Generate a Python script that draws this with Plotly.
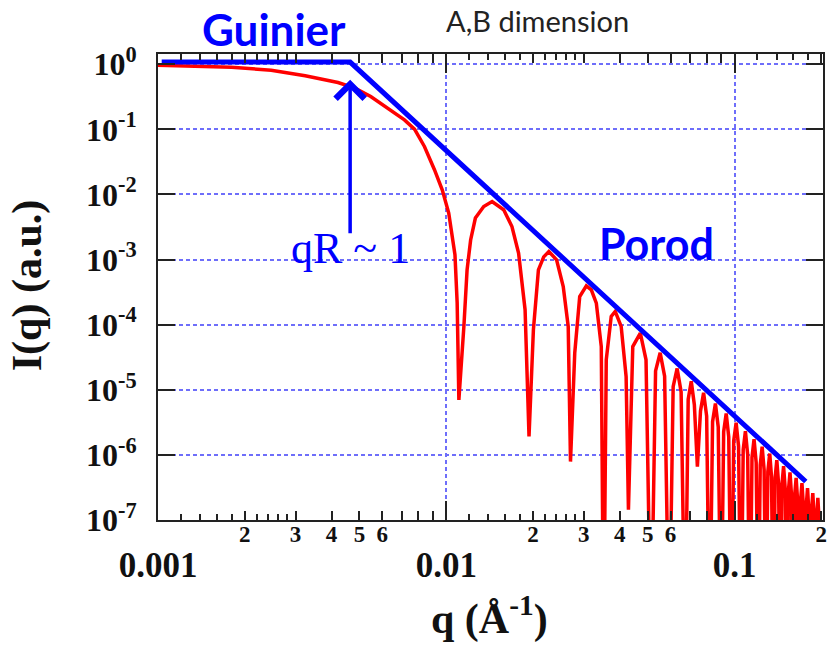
import math
import plotly.graph_objects as go

# Scattering curve of a uniform sphere (red), sampled along q
q_red = [
    # Guinier plateau and first fall-off
    0.00100, 0.00180, 0.00247, 0.00324, 0.00421, 0.00482, 0.00547, 0.00626,
    0.00716, 0.00776, 0.00840, 0.00910, 0.00969, 0.01020, 0.01072, 0.01091, 0.01106,
    # lobe 2
    0.01151, 0.01181, 0.01215, 0.01262, 0.01349, 0.01442, 0.01582, 0.01690, 0.01782, 0.01877, 0.01937,
    # lobe 3
    0.02006, 0.02088, 0.02178, 0.02270, 0.02414, 0.02546, 0.02649, 0.02698,
    # lobe 4
    0.02791, 0.02904, 0.03062, 0.03186, 0.03316, 0.03450, 0.03515,
    # lobe 5
    0.03590, 0.03735, 0.03856, 0.04044, 0.04207, 0.04286,
    # lobe 6
    0.04437, 0.04713, 0.04932, 0.05132,
    # lobes 7 - 25
    0.05323, 0.05522, 0.05722, 0.05934,
    0.06126, 0.06324, 0.06528, 0.06739,
    0.06907, 0.07079, 0.07256, 0.07434,
    0.07622, 0.07812, 0.08005, 0.08198,
    0.08393, 0.08585, 0.08781, 0.08980,
    0.09171, 0.09358, 0.09550, 0.09750,
    0.09936, 0.1013, 0.1033, 0.1053,
    0.1072, 0.1091, 0.1111, 0.1131,
    0.1150, 0.1169, 0.1189, 0.1209,
    0.1228, 0.1247, 0.1267, 0.1286,
    0.1305, 0.1325, 0.1344, 0.1364,
    0.1383, 0.1402, 0.1422, 0.1442,
    0.1461, 0.1480, 0.1500, 0.1520,
    0.1539, 0.1558, 0.1577, 0.1597,
    0.1616, 0.1636, 0.1656, 0.1675,
    0.1694, 0.1714, 0.1734, 0.1753,
    0.1773, 0.1792, 0.1811, 0.1831,
    0.1849, 0.1869, 0.1888, 0.1908,
    0.1928, 0.1946, 0.1966, 0.1986,
    0.2000,
]
i_red = [
    0.966, 0.90, 0.81, 0.665, 0.525, 0.43, 0.32, 0.212,
    0.140, 0.101, 0.0546, 0.024, 0.0117, 0.00518, 0.00119, 2.17e-4, 7.0e-6,
    9.3e-5, 6.97e-4, 2.0e-3, 4.34e-3, 6.55e-3, 7.8e-3, 5.82e-3, 3.22e-3, 1.26e-3, 1.70e-4, 1.92e-6,
    8.35e-5, 6.97e-4, 1.10e-3, 1.33e-3, 9.93e-4, 3.86e-4, 9.4e-5, 7.9e-7,
    3.66e-5, 2.71e-4, 3.96e-4, 3.44e-4, 2.15e-4, 4.62e-5, 1e-9,
    2.89e-5, 1.34e-4, 1.60e-4, 9.4e-5, 1.60e-5, 1.44e-7,
    4.62e-5, 7.43e-5, 2.89e-5, 1e-9,
    1.95e-5, 3.70e-5, 1.62e-5, 1e-9,
    1.12e-5, 2.13e-5, 9.3e-6, 1e-9,
    7.1e-6, 1.35e-5, 5.9e-6, 6.6e-7,
    4.73e-6, 9.0e-6, 3.94e-6, 1e-9,
    3.24e-6, 6.15e-6, 2.69e-6, 1e-9,
    2.27e-6, 4.33e-6, 1.89e-6, 1e-9,
    1.64e-6, 3.13e-6, 1.36e-6, 1e-9,
    1.21e-6, 2.31e-6, 1.01e-6, 1e-9,
    9.2e-7, 1.75e-6, 7.6e-7, 1e-9,
    7.0e-7, 1.34e-6, 5.9e-7, 1e-9,
    5.5e-7, 1.05e-6, 4.6e-7, 1e-9,
    4.4e-7, 8.3e-7, 3.6e-7, 1e-9,
    3.5e-7, 6.7e-7, 2.9e-7, 1e-9,
    2.85e-7, 5.4e-7, 2.37e-7, 1e-9,
    2.33e-7, 4.45e-7, 1.94e-7, 1e-9,
    1.93e-7, 3.68e-7, 1.61e-7, 1e-9,
    1.61e-7, 3.08e-7, 1.34e-7, 1e-9,
    1.36e-7, 2.59e-7, 1.13e-7, 1e-9,
    1.15e-7, 2.19e-7, 9.6e-8, 1e-9,
    8e-8,
]

# Guinier plateau + Porod q^-4 asymptote (blue)
q_fit = [0.00103, 0.00464, 0.1767]
i_fit = [1.08, 1.08, 3.9e-7]

# qR ~ 1 marker: arrow from label up to the curve
q_knee = 0.00464
i_arrow_tip = 0.578
i_arrow_tail = 2.4e-3

# axis ticks
decades = [0.001, 0.01, 0.1]
decade_labels = ["0.001", "0.01", "0.1"]
mult_ticks = [0.002, 0.003, 0.004, 0.005, 0.006, 0.007, 0.008, 0.009,
              0.02, 0.03, 0.04, 0.05, 0.06, 0.07, 0.08, 0.09, 0.2]
mult_labels = ["2", "3", "4", "5", "6", "", "", "",
               "2", "3", "4", "5", "6", "", "", "", "2"]
fine_ticks = [0.0012, 0.0014, 0.0016, 0.0018, 0.0022, 0.0024, 0.0026, 0.0028,
              0.012, 0.014, 0.016, 0.018, 0.022, 0.024, 0.026, 0.028,
              0.12, 0.14, 0.16, 0.18]
y_ticks = [1e-7, 1e-6, 1e-5, 1e-4, 1e-3, 1e-2, 1e-1, 1e0]
y_labels = ["10<sup>-7</sup>", "10<sup>-6</sup>", "10<sup>-5</sup>", "10<sup>-4</sup>",
            "10<sup>-3</sup>", "10<sup>-2</sup>", "10<sup>-1</sup>", "10<sup>0</sup>"]

X_RANGE = [-3.0, -0.693]
Y_RANGE = [-7.0, 0.158]

SERIF = "Liberation Serif"
SANS = "Lato"
BLUE = "#0000ff"
RED = "#ff0000"
GRID = "rgb(110,110,250)"
FRAME = "#222222"

fig = go.Figure()
fig.add_trace(go.Scatter(x=q_red, y=i_red, mode="lines",
                         line=dict(color=RED, width=3.5), xaxis="x", yaxis="y",
                         hoverinfo="skip"))
fig.add_trace(go.Scatter(x=q_fit, y=i_fit, mode="lines",
                         line=dict(color=BLUE, width=5), xaxis="x2", yaxis="y",
                         hoverinfo="skip"))

fig.update_layout(
    width=833, height=647,
    margin=dict(l=158, r=6, t=54, b=127),
    paper_bgcolor="white", plot_bgcolor="white",
    showlegend=False,
    xaxis=dict(
        type="log", range=X_RANGE,
        tickmode="array", tickvals=mult_ticks, ticktext=mult_labels,
        ticks="inside", ticklen=9, tickwidth=1.5, tickcolor=FRAME,
        showline=True, linewidth=2, linecolor=FRAME, mirror="ticks",
        showgrid=False, zeroline=False,
        tickfont=dict(family=SERIF, size=23, color="#111111", weight="bold"),
        ticklabelstandoff=-8,
        minor=dict(tickmode="array", tickvals=fine_ticks, ticks="inside",
                   ticklen=6, tickwidth=1.5, tickcolor=FRAME, showgrid=False),
    ),
    xaxis2=dict(
        type="log", range=X_RANGE, overlaying="x", matches="x", anchor="y", side="bottom",
        tickmode="array", tickvals=decades, ticktext=decade_labels,
        ticks="inside", ticklen=19, tickwidth=2, tickcolor=FRAME, mirror="ticks",
        showline=False, zeroline=False,
        showgrid=True, gridcolor=GRID, gridwidth=1.5, griddash="4px,3px",
        tickfont=dict(family=SERIF, size=35, color="#111111", weight="bold"),
        ticklabelstandoff=21,
    ),
    yaxis=dict(
        type="log", range=Y_RANGE,
        tickmode="array", tickvals=y_ticks, ticktext=y_labels,
        ticks="inside", ticklen=17, tickwidth=2, tickcolor=FRAME,
        showline=True, linewidth=2, linecolor=FRAME, mirror="ticks",
        showgrid=True, gridcolor=GRID, gridwidth=1.5, griddash="4px,3px",
        zeroline=False,
        tickfont=dict(family=SERIF, size=32, color="#111111", weight="bold"),
        ticklabelstandoff=13,
    ),
)

annotations = [
    # arrow marking the qR ~ 1 crossover
    dict(x=math.log10(q_knee), y=math.log10(i_arrow_tip), xref="x", yref="y",
         ax=math.log10(q_knee), ay=math.log10(i_arrow_tail), axref="x", ayref="y",
         text="", showarrow=True, arrowhead=4, arrowsize=1.6, arrowwidth=3.5,
         arrowcolor=BLUE, standoff=0),
    dict(x=0.2894, y=0.583, xref="paper", yref="paper", text="qR ~ 1",
         showarrow=False, xanchor="center", yanchor="middle",
         font=dict(family=SERIF, size=44, color=BLUE)),
    dict(x=0.750, y=0.594, xref="paper", yref="paper", text="<b>Porod</b>",
         showarrow=False, xanchor="center", yanchor="middle",
         font=dict(family=SANS, size=43, color=BLUE)),
    dict(x=0.174, y=1.0547, xref="paper", yref="paper", text="<b>Guinier</b>",
         showarrow=False, xanchor="center", yanchor="middle",
         font=dict(family=SANS, size=44, color=BLUE)),
    dict(x=0.5707, y=1.1115, xref="paper", yref="paper", text="A,B dimension",
         showarrow=False, xanchor="center", yanchor="top", borderpad=0,
         font=dict(family=SANS, size=29, color="#222222")),
    # axis titles
    dict(x=-0.197, y=0.5038, xref="paper", yref="paper", text="<b>I(q) (a.u.)</b>",
         textangle=-90, showarrow=False, xanchor="center", yanchor="middle",
         font=dict(family=SERIF, size=42, color="#111111")),
    dict(x=0.4989, y=-0.207, xref="paper", yref="paper", text="<b>q (Å<sup>-1</sup>)</b>",
         showarrow=False, xanchor="center", yanchor="middle",
         font=dict(family=SERIF, size=42, color="#111111")),
]
fig.update_layout(annotations=annotations)

fig.write_html("out.html")
